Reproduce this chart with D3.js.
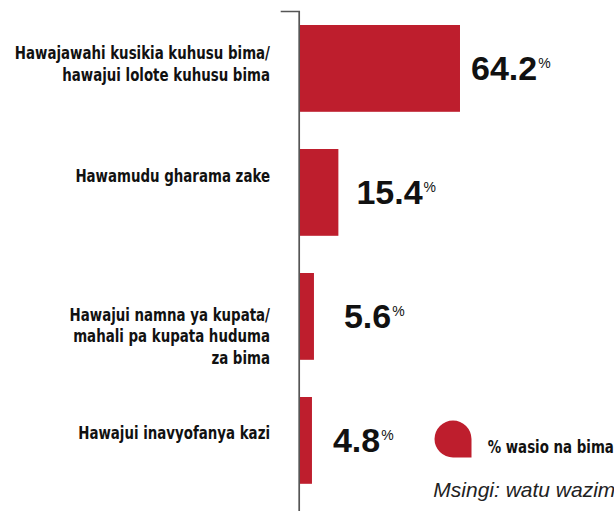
<!DOCTYPE html>
<html>
<head>
<meta charset="utf-8">
<script src="https://cdn.jsdelivr.net/npm/d3@7"></script>
<style>
  html, body { margin: 0; padding: 0; background: #fff; }
  svg { display: block; }
  .cat { font-family: "DejaVu Sans Condensed", "DejaVu Sans", sans-serif; font-stretch: condensed; font-weight: bold; font-size: 17px; fill: #111; }
  .val { font-family: "Liberation Sans", Arial, sans-serif; font-weight: bold; font-size: 34px; fill: #111; }
  .pct { font-size: 14px; font-weight: normal; }
  .leg { font-family: "DejaVu Sans Condensed", "DejaVu Sans", sans-serif; font-stretch: condensed; font-weight: bold; font-size: 17px; fill: #111; }
  .note { font-family: "Liberation Sans", Arial, sans-serif; font-style: italic; font-size: 21px; fill: #222; }
</style>
</head>
<body>
<svg id="chart" width="614" height="511"></svg>
<script>
// Sababu za kutokuwa na bima
const categories = [
  ["Hawajawahi kusikia kuhusu bima/", "hawajui lolote kuhusu bima"],
  ["Hawamudu gharama zake"],
  ["Hawajui namna ya kupata/", "mahali pa kupata huduma", "za bima"],
  ["Hawajui inavyofanya kazi"]
];
const values = [64.2, 15.4, 5.6, 4.8];
const legendLabel = "% wasio na bima";
const noteText = "Msingi: watu wazima";

// layout tweaks for the text beside each bar
const catBaselineDy = [-9.5, -10.8, 4.2, -1.2];
const valueDx = [11, 18, 30, 21];
const narrow = 0.875; // horizontal squeeze for the condensed labels

const svg = d3.select("#chart");
const keys = categories.map((c, i) => i);

const y = d3.scaleBand()
  .domain(keys)
  .range([6.4, 502.4])
  .paddingInner(0.3)
  .paddingOuter(0.15);

const x = d3.scaleLinear().domain([0, 100]).range([300, 549.2]);

// axis line with the small cap at the top
const axisScale = d3.scaleLinear().domain([0, 1]).range([11, 540]);
const axis = svg.append("g")
  .attr("transform", "translate(298.7,0)")
  .call(d3.axisLeft(axisScale).tickValues([]).tickSizeOuter(18));
axis.select(".domain").attr("stroke", "#555").attr("stroke-width", 1.7).attr("fill", "none");

// bars
svg.append("g").selectAll("rect")
  .data(values)
  .join("rect")
  .attr("x", x(0))
  .attr("y", (d, i) => y(i))
  .attr("width", d => x(d) - x(0))
  .attr("height", y.bandwidth())
  .attr("fill", "#BE1E2D");

// category labels
const lineH = 21.7;
const cats = svg.append("g").selectAll("text")
  .data(categories)
  .join("text")
  .attr("class", "cat")
  .attr("text-anchor", "end")
  .attr("transform", (d, i) => `translate(270,${y(i) + y.bandwidth() / 2 + catBaselineDy[i]}) scale(${narrow},1)`)
  .attr("x", 0)
  .attr("y", 0);
cats.selectAll("tspan")
  .data(d => d)
  .join("tspan")
  .attr("x", 0)
  .attr("dy", (d, j) => j === 0 ? 0 : lineH)
  .text(d => d);

// value labels
const vals = svg.append("g").selectAll("text")
  .data(values)
  .join("text")
  .attr("class", "val")
  .attr("x", (d, i) => x(d) + valueDx[i])
  .attr("y", (d, i) => y(i) + y.bandwidth() / 2 + 12);
vals.append("tspan").text(d => d3.format(".1f")(d));
vals.append("tspan").attr("class", "pct").attr("dx", 1).attr("dy", -12).text("%");

// legend
const lx = 453, ly = 439, r = 18.5;
const drop = d3.path();
drop.moveTo(lx + r, ly);
drop.lineTo(lx + r, ly + r);
drop.lineTo(lx, ly + r);
drop.arc(lx, ly, r, Math.PI / 2, 2 * Math.PI);
drop.closePath();
svg.append("path").attr("d", drop.toString()).attr("fill", "#BE1E2D");

svg.append("text").attr("class", "leg")
  .attr("transform", `translate(487.7,452.7) scale(${narrow},1)`)
  .text(legendLabel);
svg.append("text").attr("class", "note").attr("x", 433.3).attr("y", 497).text(noteText);
</script>
</body>
</html>
